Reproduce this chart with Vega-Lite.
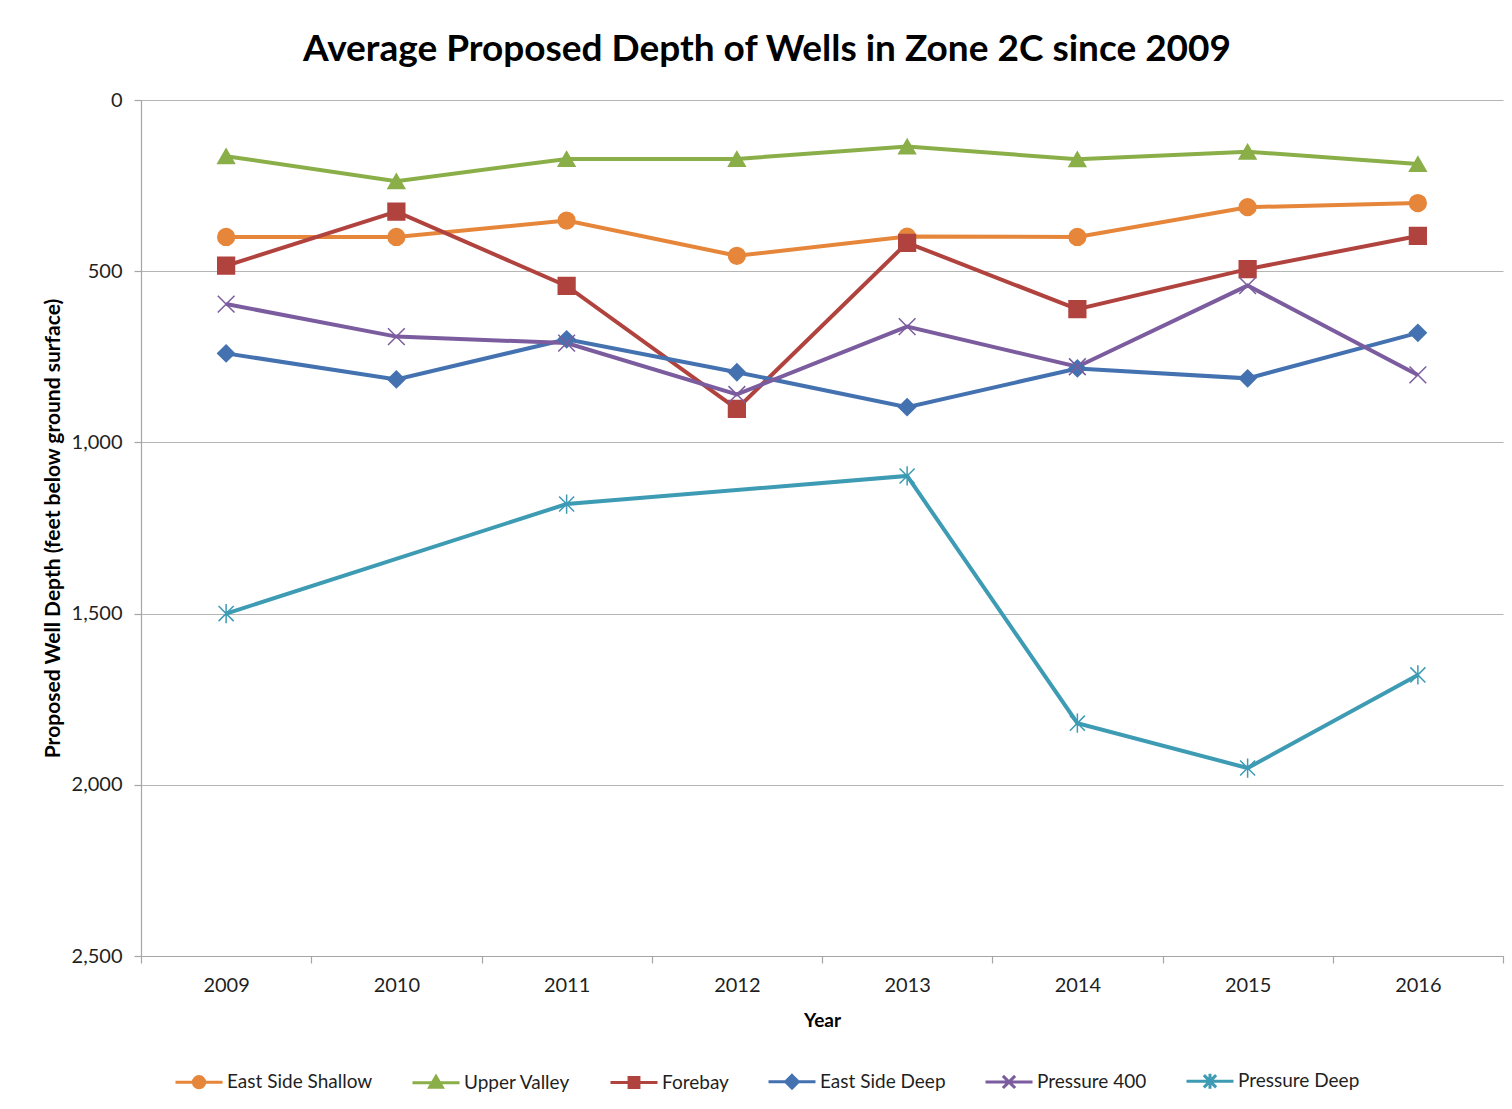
{
  "$schema": "https://vega.github.io/schema/vega-lite/v6.json",
  "width": 1362,
  "height": 856,
  "autosize": "none",
  "padding": {"left": 141, "top": 100, "right": 9, "bottom": 153},
  "background": "white",
  "title": {
    "text": "Average Proposed Depth of Wells in Zone 2C since 2009",
    "font": "Lato",
    "fontSize": 37,
    "fontWeight": "bold",
    "color": "#000000",
    "anchor": "middle",
    "frame": "group",
    "dx": -55,
    "baseline": "alphabetic",
    "offset": -8
  },
  "config": {
    "font": "Lato",
    "view": {"stroke": null},
    "axis": {
      "labelFont": "Lato",
      "labelFontSize": 20,
      "labelColor": "#1f1f1f",
      "titleFont": "Lato",
      "titleFontWeight": "bold",
      "titleColor": "#000000",
      "domainColor": "#A6A6A6",
      "tickColor": "#A6A6A6",
      "gridColor": "#B5B5B5",
      "domainWidth": 1.2,
      "tickWidth": 1.2,
      "gridWidth": 1.2
    }
  },
  "data": {
    "values": [
      {"year": "2009", "series": "East Side Shallow", "depth": 400},
      {"year": "2010", "series": "East Side Shallow", "depth": 400},
      {"year": "2011", "series": "East Side Shallow", "depth": 352},
      {"year": "2012", "series": "East Side Shallow", "depth": 455},
      {"year": "2013", "series": "East Side Shallow", "depth": 399},
      {"year": "2014", "series": "East Side Shallow", "depth": 400},
      {"year": "2015", "series": "East Side Shallow", "depth": 313},
      {"year": "2016", "series": "East Side Shallow", "depth": 301},
      {"year": "2009", "series": "Upper Valley", "depth": 164},
      {"year": "2010", "series": "Upper Valley", "depth": 237},
      {"year": "2011", "series": "Upper Valley", "depth": 172},
      {"year": "2012", "series": "Upper Valley", "depth": 172},
      {"year": "2013", "series": "Upper Valley", "depth": 136},
      {"year": "2014", "series": "Upper Valley", "depth": 173},
      {"year": "2015", "series": "Upper Valley", "depth": 151},
      {"year": "2016", "series": "Upper Valley", "depth": 187},
      {"year": "2009", "series": "Forebay", "depth": 484},
      {"year": "2010", "series": "Forebay", "depth": 326},
      {"year": "2011", "series": "Forebay", "depth": 543},
      {"year": "2012", "series": "Forebay", "depth": 902},
      {"year": "2013", "series": "Forebay", "depth": 417},
      {"year": "2014", "series": "Forebay", "depth": 611},
      {"year": "2015", "series": "Forebay", "depth": 494},
      {"year": "2016", "series": "Forebay", "depth": 397},
      {"year": "2009", "series": "East Side Deep", "depth": 740},
      {"year": "2010", "series": "East Side Deep", "depth": 816},
      {"year": "2011", "series": "East Side Deep", "depth": 699},
      {"year": "2012", "series": "East Side Deep", "depth": 795},
      {"year": "2013", "series": "East Side Deep", "depth": 897},
      {"year": "2014", "series": "East Side Deep", "depth": 784},
      {"year": "2015", "series": "East Side Deep", "depth": 813},
      {"year": "2016", "series": "East Side Deep", "depth": 680},
      {"year": "2009", "series": "Pressure 400", "depth": 596},
      {"year": "2010", "series": "Pressure 400", "depth": 691},
      {"year": "2011", "series": "Pressure 400", "depth": 710},
      {"year": "2012", "series": "Pressure 400", "depth": 860},
      {"year": "2013", "series": "Pressure 400", "depth": 662},
      {"year": "2014", "series": "Pressure 400", "depth": 779},
      {"year": "2015", "series": "Pressure 400", "depth": 542},
      {"year": "2016", "series": "Pressure 400", "depth": 803},
      {"year": "2009", "series": "Pressure Deep", "depth": 1500},
      {"year": "2011", "series": "Pressure Deep", "depth": 1180},
      {"year": "2013", "series": "Pressure Deep", "depth": 1098},
      {"year": "2014", "series": "Pressure Deep", "depth": 1820},
      {"year": "2015", "series": "Pressure Deep", "depth": 1951},
      {"year": "2016", "series": "Pressure Deep", "depth": 1679}
    ]
  },
  "encoding": {
    "x": {
      "field": "year",
      "type": "ordinal",
      "bandPosition": 0.5,
      "scale": {"type": "band", "paddingInner": 0, "paddingOuter": 0},
      "axis": {
        "title": "Year",
        "titleFontSize": 19,
        "titlePadding": 16,
        "labelAngle": 0,
        "grid": false,
        "tickBand": "extent",
        "tickSize": 7,
        "labelPadding": 12
      }
    },
    "y": {
      "field": "depth",
      "type": "quantitative",
      "scale": {"domain": [0, 2500], "reverse": true, "nice": false, "zero": false},
      "axis": {
        "title": "Proposed Well Depth (feet below ground surface)",
        "titleFontSize": 21,
        "titlePadding": 8,
        "values": [0, 500, 1000, 1500, 2000, 2500],
        "format": ",.0f",
        "grid": true,
        "tickSize": 7,
        "labelPadding": 12
      }
    }
  },
  "layer": [
    {
      "mark": {"type": "line", "strokeWidth": 4},
      "encoding": {
        "color": {
          "field": "series",
          "type": "nominal",
          "scale": {
            "domain": ["East Side Shallow", "Upper Valley", "Forebay", "East Side Deep", "Pressure 400", "Pressure Deep"],
            "range": ["#E6863A", "#8AAE48", "#B1433F", "#4472B0", "#7B5C9E", "#3D9BB4"]
          },
          "legend": null
        },
        "detail": {"field": "series", "type": "nominal"}
      }
    },
    {
      "mark": {"type": "point", "filled": true, "size": 280, "strokeWidth": 1.5, "opacity": 1},
      "encoding": {
        "color": {
          "field": "series",
          "type": "nominal",
          "scale": {
            "domain": ["East Side Shallow", "Upper Valley", "Forebay", "East Side Deep", "Pressure 400", "Pressure Deep"],
            "range": ["#E6863A", "#8AAE48", "#B1433F", "#4472B0", "#7B5C9E", "#3D9BB4"]
          },
          "legend": null
        },
        "shape": {
          "field": "series",
          "type": "nominal",
          "scale": {
            "domain": ["East Side Shallow", "Upper Valley", "Forebay", "East Side Deep", "Pressure 400", "Pressure Deep"],
            "range": ["circle", "triangle-up", "square", "diamond", "M-1,-1L1,1M-1,1L1,-1", "M-0.9,-0.9L0.9,0.9M-0.9,0.9L0.9,-0.9M0,-1.15L0,1.15"]
          },
          "legend": null
        },
        "stroke": {
          "field": "series",
          "type": "nominal",
          "scale": {
            "domain": ["East Side Shallow", "Upper Valley", "Forebay", "East Side Deep", "Pressure 400", "Pressure Deep"],
            "range": ["#E6863A", "#8AAE48", "#B1433F", "#4472B0", "#7B5C9E", "#3D9BB4"]
          },
          "legend": null
        }
      }
    },
    {
      "mark": {"type": "point", "filled": true, "size": 280, "opacity": 0},
      "encoding": {
        "color": {
          "field": "series",
          "type": "nominal",
          "scale": {
            "domain": ["East Side Shallow", "Upper Valley", "Forebay", "East Side Deep", "Pressure 400", "Pressure Deep"],
            "range": ["#E6863A", "#8AAE48", "#B1433F", "#4472B0", "#7B5C9E", "#3D9BB4"]
          },
          "legend": {
            "orient": "none", "legendX": 33, "legendY": 956, "direction": "horizontal", "title": null, "padding": 0,
            "labelFont": "Lato", "labelFontSize": 19, "labelColor": "#1f1f1f", "labelLimit": 400, "labelOffset": 3,
            "columnPadding": 33, "symbolSize": 2209, "symbolStrokeWidth": 3, "symbolOpacity": 1
          }
        },
        "stroke": {
          "field": "series",
          "type": "nominal",
          "scale": {
            "domain": ["East Side Shallow", "Upper Valley", "Forebay", "East Side Deep", "Pressure 400", "Pressure Deep"],
            "range": ["#E6863A", "#8AAE48", "#B1433F", "#4472B0", "#7B5C9E", "#3D9BB4"]
          },
          "legend": {
            "orient": "none", "legendX": 33, "legendY": 956, "direction": "horizontal", "title": null, "padding": 0,
            "labelFont": "Lato", "labelFontSize": 19, "labelColor": "#1f1f1f", "labelLimit": 400, "labelOffset": 3,
            "columnPadding": 33, "symbolSize": 2209, "symbolStrokeWidth": 3, "symbolOpacity": 1
          }
        },
        "shape": {
          "field": "series",
          "type": "nominal",
          "scale": {
            "domain": ["East Side Shallow", "Upper Valley", "Forebay", "East Side Deep", "Pressure 400", "Pressure Deep"],
            "range": [
              "M-1,0L1,0M-0.24,0A0.24,0.24 0 1 0 0.24,0A0.24,0.24 0 1 0 -0.24,0Z",
              "M-1,0L1,0M0,-0.26L0.27,0.2L-0.27,0.2Z",
              "M-1,0L1,0M-0.21,-0.21L0.21,-0.21L0.21,0.21L-0.21,0.21Z",
              "M-1,0L1,0M0,-0.27L0.27,0L0,0.27L-0.27,0Z",
              "M-1,0L1,0M-0.26,-0.26L0.26,0.26M-0.26,0.26L0.26,-0.26",
              "M-1,0L1,0M-0.26,-0.26L0.26,0.26M-0.26,0.26L0.26,-0.26M0,-0.32L0,0.32"
            ]
          },
          "legend": {
            "orient": "none", "legendX": 33, "legendY": 956, "direction": "horizontal", "title": null, "padding": 0,
            "labelFont": "Lato", "labelFontSize": 19, "labelColor": "#1f1f1f", "labelLimit": 400, "labelOffset": 3,
            "columnPadding": 33, "symbolSize": 2209, "symbolStrokeWidth": 3, "symbolOpacity": 1
          }
        }
      }
    }
  ],
  "resolve": {"scale": {"color": "independent", "shape": "independent", "stroke": "independent"}}
}
